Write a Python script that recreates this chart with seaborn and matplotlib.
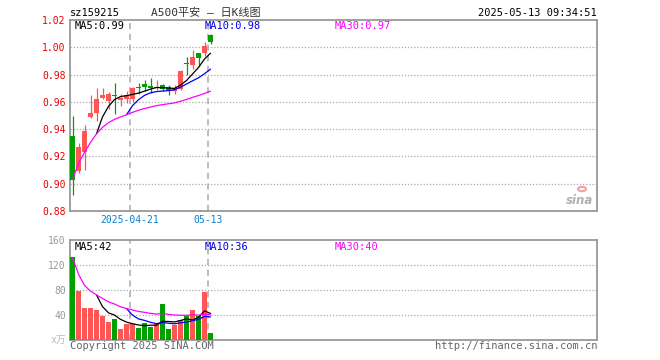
"""Daily K-line chart for sz159215 (A500平安) with volume panel."""

import matplotlib

matplotlib.use("Agg")
import matplotlib.pyplot as plt
import numpy as np
import pandas as pd
import seaborn as sns

# candle data (24 sessions)
opens = [0.935, 0.909, 0.923, 0.949, 0.952, 0.963, 0.9605, 0.965, 0.961, 0.962, 0.962, 0.9705,
         0.9728, 0.9712, 0.970, 0.9723, 0.9706, 0.968, 0.9697, 0.9885, 0.987, 0.9957, 0.9955, 1.009]
closes = [0.903, 0.927, 0.939, 0.952, 0.962, 0.965, 0.9655, 0.964, 0.963, 0.965, 0.970, 0.970,
          0.9712, 0.9705, 0.971, 0.9692, 0.9686, 0.970, 0.9827, 0.9878, 0.993, 0.9925, 1.001, 1.004]
highs = [0.950, 0.930, 0.943, 0.965, 0.970, 0.970, 0.967, 0.974, 0.966, 0.968, 0.971, 0.9735,
         0.976, 0.9775, 0.976, 0.973, 0.972, 0.972, 0.983, 0.993, 0.998, 0.996, 1.0036, 1.010]
lows = [0.892, 0.908, 0.910, 0.948, 0.946, 0.962, 0.955, 0.951, 0.957, 0.959, 0.960, 0.966,
        0.968, 0.9667, 0.9686, 0.968, 0.965, 0.966, 0.969, 0.980, 0.984, 0.986, 0.9937, 1.0023]
volumes = [132, 78, 50.6, 50.6, 47, 38, 28, 32.5, 16.5, 25, 25, 18, 26.6, 20.2, 25, 56.5,
           16.5, 23, 32, 38, 47, 38, 76, 10]

date_pos = [10, 23]
date_labels = ["2025-04-21", "05-13"]
price_ticks = [0.88, 0.90, 0.92, 0.94, 0.96, 0.98, 1.00, 1.02]
vol_ticks = [40, 80, 120, 160]

RED = "#ff5555"
GREEN = "#00a000"
W, H = 660, 360

sns.set_style("white")
plt.rcParams["font.family"] = ["DejaVu Sans Mono", "Noto Sans CJK SC"]

df = pd.DataFrame({"open": opens, "close": closes, "high": highs, "low": lows, "vol": volumes})
df["i"] = np.arange(len(df))
df["color"] = np.where(df["close"] >= df["open"], RED, GREEN)
df["ma5"] = df["close"].rolling(5).mean()
df["ma10"] = df["close"].rolling(10).mean()
df["ma30"] = df["close"].rolling(30, min_periods=1).mean()
df["vma5"] = df["vol"].rolling(5).mean()
df["vma10"] = df["vol"].rolling(10).mean()
df["vma30"] = df["vol"].rolling(30, min_periods=1).mean()

fig = plt.figure(figsize=(W / 100, H / 100), dpi=100)


def box(x0, y0, x1, y1):
    return [x0 / W, 1 - y1 / H, (x1 - x0) / W, (y1 - y0) / H]


ax = fig.add_axes(box(70, 20, 597, 211))
axv = fig.add_axes(box(70, 240, 597, 339.5))

xlim = (-0.42, -0.42 + 527 / 6)
bw = 5 / 6

# price candles
body = (df["close"] - df["open"]).abs().clip(lower=0.0009)
bottom = df[["open", "close"]].min(axis=1)
ax.vlines(df["i"], df["low"], df["high"], colors=df["color"], lw=0.9, zorder=3)
ax.bar(df["i"], body, bottom=bottom, width=bw, color=df["color"], lw=0, zorder=4)
for col, c in [("ma5", "black"), ("ma10", "#0000ee"), ("ma30", "#ff00ff")]:
    sns.lineplot(data=df, x="i", y=col, color=c, lw=0.9, ax=ax, zorder=5)

# volume bars
axv.bar(df["i"], df["vol"], width=bw, color=df["color"], lw=0, zorder=3)
for col, c in [("vma5", "black"), ("vma10", "#0000ee"), ("vma30", "#ff00ff")]:
    sns.lineplot(data=df, x="i", y=col, color=c, lw=0.9, ax=axv, zorder=5)

for a in (ax, axv):
    a.set_xlim(*xlim)
    a.set_xlabel("")
    a.set_ylabel("")
    for s in a.spines.values():
        s.set_color("#999999")
        s.set_linewidth(1.3)
    for p in date_pos:
        a.axvline(p - 0.42, color="#aaaaaa", lw=1.1, ls=(0, (4, 3)), zorder=1)
    a.tick_params(length=0, labelsize=7)

ax.set_ylim(0.88, 1.02)
ax.set_yticks(price_ticks)
ax.set_yticklabels([f"{v:.2f}" for v in price_ticks], color="#ee0000")
for v in price_ticks[1:-1]:
    ax.axhline(v, color="#aaaaaa", lw=0.9, ls=(0, (1, 1.5)), zorder=1)
ax.set_xticks([p - 0.42 for p in date_pos])
ax.set_xticklabels(date_labels, color="#0a80d0")
ax.tick_params(axis="x", pad=3)
ax.tick_params(axis="y", pad=3)

axv.set_ylim(0, 160)
axv.set_yticks(vol_ticks)
axv.set_yticklabels([str(v) for v in vol_ticks], color="#999999")
axv.set_xticks([])
axv.tick_params(axis="y", pad=3)
for v in vol_ticks[:-1]:
    axv.axhline(v, color="#aaaaaa", lw=0.9, ls=(0, (1, 1.5)), zorder=1)


def txt(x, y, s, **kw):
    kw.setdefault("fontsize", 7.5)
    kw.setdefault("va", "center")
    fig.text(x / W, 1 - y / H, s, **kw)


txt(70, 13, "sz159215", color="black")
txt(151, 13, "A500平安 — 日K线图", color="#333333", fontsize=8)
txt(597, 13, "2025-05-13 09:34:51", color="black", ha="right")

txt(75, 26, "MA5:0.99", color="black")
txt(205, 26, "MA10:0.98", color="#0000ee")
txt(335, 26, "MA30:0.97", color="#ff00ff")
txt(75, 247, "MA5:42", color="black")
txt(205, 247, "MA10:36", color="#0000ee")
txt(335, 247, "MA30:40", color="#ff00ff")

txt(66, 340, "x万", color="#bbbbbb", ha="right", fontsize=7)
txt(70, 346, "Copyright 2025 SINA.COM", color="#666666")
txt(597, 346, "http://finance.sina.com.cn", color="#666666", ha="right")

# sina watermark
txt(580, 200, "sina", color="#b0b0b0", ha="center", fontsize=8.5, fontweight="bold",
    style="italic", family="DejaVu Sans")
fig.patches.append(plt.Circle((582 / W, 1 - 189 / H), 4 / W, transform=fig.transFigure,
                              fill=False, ec="#f5a0a0", lw=1.5))

fig.savefig("out.png", dpi=100)
